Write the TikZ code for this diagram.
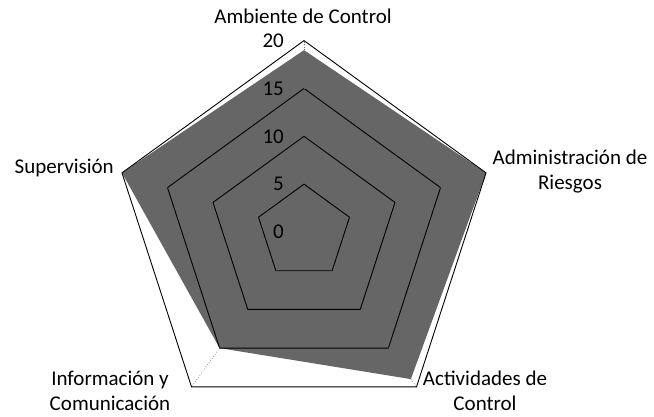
\documentclass[tikz,border=0pt]{standalone}
\usepackage{fontspec}
\setmainfont{Carlito}
\begin{document}
\begin{tikzpicture}[x=1pt,y=-1pt,
  lbl/.style={font=\fontsize{21}{25}\selectfont, align=center, inner sep=0pt},
  num/.style={font=\fontsize{21}{22}\selectfont, anchor=east, inner sep=0pt},
  gridline/.style={draw=black, line width=0.9pt},
  spoke/.style={draw=black!60, dotted, line width=0.6pt},
  area/.style={fill=black!60}]
\useasboundingbox (0,0) rectangle (654,417);
\def\u{9.57}
\begin{scope}[shift={(304,232)}]
  \fill[area] (-90:19*\u) -- (-18:20*\u) -- (54:19*\u) -- (126:15*\u) -- (198:20*\u) -- cycle;
  \foreach \r in {5,10,15,20}
    \draw[gridline] (-90:\r*\u) -- (-18:\r*\u) -- (54:\r*\u) -- (126:\r*\u) -- (198:\r*\u) -- cycle;
  \foreach \a in {-90,-18,54,126,198}
    \draw[spoke] (0,0) -- (\a:20*\u);
  \foreach \r in {0,5,10,15,20}
    \node[num] (n\r) at (-20,-\r*\u) {\r};
\end{scope}
\node[lbl] (amb) at (303,16) {Ambiente de Control};
\node[lbl] (adm) at (570,172) {Administración de\\Riesgos};
\node[lbl] (act) at (485,391) {Actividades de\\Control};
\node[lbl] (inf) at (110,391) {Información y\\Comunicación};
\node[lbl, anchor=east] (sup) at (114,168) {Supervisión};
\end{tikzpicture}
\end{document}
